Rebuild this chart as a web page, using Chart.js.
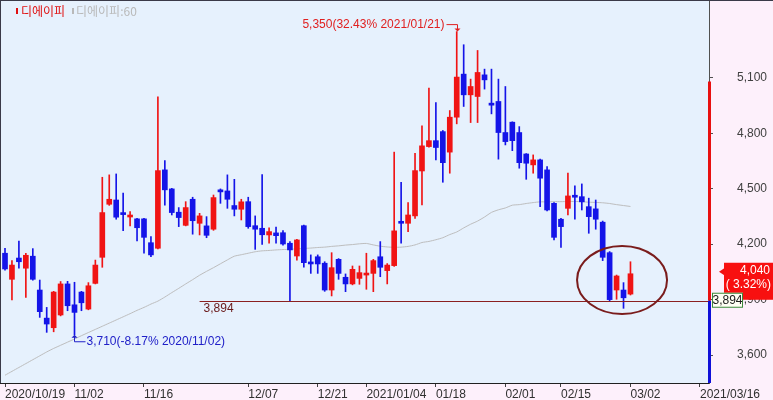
<!DOCTYPE html>
<html><head><meta charset="utf-8">
<script src="https://cdn.jsdelivr.net/npm/chart.js@4/dist/chart.umd.min.js"></script>
<style>html,body{margin:0;padding:0;background:#FDF0FB;}#wrap{width:773px;height:400px;position:relative}</style>
</head><body><div id="wrap"><canvas id="c" width="773" height="400"></canvas></div>
<script>
const dates = [
'2020/10/19','2020/10/20','2020/10/21','2020/10/22','2020/10/23','2020/10/26','2020/10/27','2020/10/28','2020/10/29','2020/10/30',
'2020/11/02','2020/11/03','2020/11/04','2020/11/05','2020/11/06','2020/11/09','2020/11/10','2020/11/11','2020/11/12','2020/11/13',
'2020/11/16','2020/11/17','2020/11/18','2020/11/19','2020/11/20','2020/11/23','2020/11/24','2020/11/25','2020/11/26','2020/11/27',
'2020/11/30','2020/12/01','2020/12/02','2020/12/03','2020/12/04','2020/12/07','2020/12/08','2020/12/09','2020/12/10','2020/12/11',
'2020/12/14','2020/12/15','2020/12/16','2020/12/17','2020/12/18','2020/12/21','2020/12/22','2020/12/23','2020/12/24','2020/12/28',
'2020/12/29','2020/12/30','2021/01/04','2021/01/05','2021/01/06','2021/01/07','2021/01/08','2021/01/11','2021/01/12','2021/01/13',
'2021/01/14','2021/01/15','2021/01/18','2021/01/19','2021/01/20','2021/01/21','2021/01/22','2021/01/25','2021/01/26','2021/01/27',
'2021/01/28','2021/01/29','2021/02/01','2021/02/02','2021/02/03','2021/02/04','2021/02/05','2021/02/08','2021/02/09','2021/02/10',
'2021/02/15','2021/02/16','2021/02/17','2021/02/18','2021/02/19','2021/02/22','2021/02/23','2021/02/24','2021/02/25','2021/02/26',
'2021/03/02','2021/03/03','2021/03/04','2021/03/05','2021/03/08','2021/03/09','2021/03/10','2021/03/11','2021/03/12','2021/03/15',
'2021/03/16'];

const opens  = [4151,4010,4125,4070,4135,3952,3800,3748,3817,3985, 3872,3941,3849,3988,4129,4416,4439,4369,4347,4337,
                4337,4208,4178,4602,4499,4373,4302,4443,4313,4299, 4281,4494,4488,4409,4389,4430,4300,4286,4250,4261,
                4262,4205,4136,4300,4104,4132,4097,3952,4118,4021, 3985,4015,4033,4042,4132,4057,4084,4322,4313,4353,
                4596,4728,4760,4809,4698,4887,5120,5008,4999,5116, 4963,4972,4804,4860,4804,4688,4629,4656,4602,4421,
                4335,4394,4463,4457,4403,4391,4319,4154,3952,3952, 3930];
const highs  = [4178,4111,4217,4151,4176,4006,3858,3945,3998,3999, 3994,3945,3992,4114,4562,4575,4580,4476,4376,4340,
                4340,4241,4997,4652,4502,4398,4430,4454,4367,4349, 4466,4499,4575,4551,4443,4454,4353,4576,4289,4292,
                4273,4214,4226,4303,4142,4142,4105,4154,4122,4039, 4082,4082,4151,4118,4214,4095,4698,4535,4425,4692,
                4840,5044,4966,4815,4923,5350,5279,5093,5248,5147, 5147,5093,5053,4862,4836,4690,4683,4660,4620,4425,
                4340,4584,4515,4526,4449,4439,4325,4160,4033,3992, 4105];
const lows   = [4060,3898,4070,3912,4005,3804,3723,3726,3812,3840, 3710,3840,3845,3985,4075,4410,4335,4273,4299,4217,
                4151,4132,4175,4411,4358,4295,4299,4254,4250,4235, 4275,4421,4394,4353,4331,4286,4172,4199,4205,4205,
                4195,3894,4114,4075,4042,4042,3945,3920,4010,3943, 3980,3983,3956,3943,4024,3985,4080,4205,4268,4340,
                4412,4725,4656,4535,4584,4851,4945,4858,4858,5039, 4905,4660,4737,4706,4611,4551,4584,4403,4380,4223,
                4183,4358,4335,4385,4259,4281,4111,3894,3902,3853, 3925];
const closes = [4066,4087,4105,4140,4010,3835,3768,3941,3985,3867, 3831,3883,3975,4087,4371,4443,4346,4360,4356,4289,
                4237,4142,4598,4494,4371,4344,4398,4327,4353,4248, 4452,4483,4443,4389,4429,4295,4281,4251,4268,4246,
                4201,4169,4223,4100,4093,4093,3952,4073,4042,3985, 4064,4046,4042,4111,4075,4087,4272,4313,4358,4598,
                4732,4760,4723,4641,4887,5104,5008,5053,5129,5089, 4952,4804,4755,4760,4641,4638,4656,4557,4385,4237,
                4295,4461,4454,4429,4349,4335,4129,3900,4028,3910, 4040];
const ma60   = [3491,3512,3533,3554,3575,3596,3617,3636,3653,3670, 3687,3705,3722,3739,3756,3773,3790,3807,3824,3842,
                3858,3876,3892,3914,3938,3961,3985,4008,4032,4053, 4073,4094,4115,4135,4143,4151,4159,4164,4166,4169,
                4171,4172,4175,4177,4179,4182,4184,4188,4191,4195, 4198,4202,4204,4196,4189,4185,4183,4184,4188,4196,
                4209,4215,4224,4235,4252,4266,4288,4308,4325,4347, 4372,4386,4396,4411,4414,4420,4425,4429,4429,4430,
                4430,4431,4431,4430,4427,4426,4424,4420,4414,4409, 4404];

const tickIdx  = [0,10,20,35,45,52,62,72,80,90,100];
const tickText = ['2020/10/19','11/02','11/16','12/07','12/21','2021/01/04','01/18','02/01','02/15','03/02','2021/03/16'];
const yTicks   = [3600,3900,4200,4500,4800,5100];
const supportLevel = 3894;
const supportStartDate = '2020/11/26';
const rangeTop = 5080;
const seriesNames = ['디에이피','디에이피:60'];

const UP = '#F01414', DOWN = '#1414E8';
const fmt = v => Math.round(v).toLocaleString('en-US');
const FONT = '"Liberation Sans", Arial, sans-serif';

const n = closes.length;
const colors = closes.map((c,i)=> c >= opens[i] ? UP : DOWN);
const last = closes[n-1];
const prev = closes[n-2];

const deco = {
  id: 'deco',
  beforeDraw(chart) {
    const {ctx, chartArea: a} = chart;
    ctx.save();
    ctx.fillStyle = '#FDF0FB'; ctx.fillRect(0,0,chart.width,chart.height);
    ctx.fillStyle = '#E6F1FD'; ctx.fillRect(a.left,a.top,a.right-a.left,a.bottom-a.top);
    ctx.restore();
  },
  afterDatasetsDraw(chart) {
    const {ctx, chartArea: a, scales:{x, y}} = chart;
    ctx.save();
    ctx.font = '12px "Noto Sans CJK KR", sans-serif';
    ctx.textBaseline = 'middle';
    ctx.fillStyle = '#E01010'; ctx.fillRect(16,8,2,6);
    ctx.fillText(seriesNames[0], 21, 11);
    ctx.fillStyle = '#B9B9B9'; ctx.fillRect(72,8,2,6);
    ctx.fillText(seriesNames[1], 76, 11);

    const sy = Math.round(y.getPixelForValue(supportLevel)) + 0.5;
    const sx = x.getPixelForValue(dates.indexOf(supportStartDate));
    ctx.strokeStyle = '#8B2020'; ctx.lineWidth = 1;
    ctx.beginPath(); ctx.moveTo(sx, sy); ctx.lineTo(a.right, sy); ctx.stroke();
    ctx.font = '12px ' + FONT; ctx.fillStyle = '#6A1A1A'; ctx.textBaseline = 'top'; ctx.textAlign = 'left';
    ctx.fillText(fmt(supportLevel), sx + 4, sy + 1);

    const k0 = n - 4;
    let lo = Infinity, hi = -Infinity;
    for (let i = k0; i < n; i++) { lo = Math.min(lo, lows[i]); hi = Math.max(hi, highs[i]); }
    const cx = x.getPixelForValue((k0 + n - 1) / 2) + 2;
    const cy = (y.getPixelForValue(lo) + y.getPixelForValue(hi)) / 2;
    ctx.strokeStyle = '#7A1C1C'; ctx.lineWidth = 2;
    ctx.beginPath(); ctx.ellipse(cx, cy, 45, 34, 0, 0, Math.PI * 2); ctx.stroke();

    let iMax = 0, iMin = 0;
    highs.forEach((v,i)=>{ if (v > highs[iMax]) iMax = i; });
    lows.forEach((v,i)=>{ if (v < lows[iMin]) iMin = i; });
    const pct = v => ((v / last - 1) * 100).toFixed(2) + '%';
    ctx.lineWidth = 1;
    let px = Math.round(x.getPixelForValue(iMax)) + 0.5, py = y.getPixelForValue(highs[iMax]);
    ctx.strokeStyle = '#E02020'; ctx.fillStyle = '#E02020';
    const ty = py - 7;
    ctx.beginPath(); ctx.moveTo(px - 11, ty); ctx.lineTo(px, ty); ctx.lineTo(px, py - 2); ctx.stroke();
    ctx.beginPath(); ctx.moveTo(px - 3, py - 3); ctx.lineTo(px + 3, py - 3); ctx.lineTo(px, py); ctx.closePath(); ctx.fill();
    ctx.textAlign = 'right'; ctx.textBaseline = 'middle';
    ctx.fillText(fmt(highs[iMax]) + '(' + pct(highs[iMax]) + ' ' + dates[iMax] + ')', px - 13, ty);
    px = Math.round(x.getPixelForValue(iMin)) + 0.5; py = y.getPixelForValue(lows[iMin]);
    ctx.strokeStyle = '#2020C8'; ctx.fillStyle = '#2020C8';
    const by = py + 7;
    ctx.beginPath(); ctx.moveTo(px, py + 2); ctx.lineTo(px, by); ctx.lineTo(px + 11, by); ctx.stroke();
    ctx.beginPath(); ctx.moveTo(px - 3, py + 3); ctx.lineTo(px + 3, py + 3); ctx.lineTo(px, py); ctx.closePath(); ctx.fill();
    ctx.textAlign = 'left';
    ctx.fillText(fmt(lows[iMin]) + '(' + pct(lows[iMin]) + ' ' + dates[iMin] + ')', px + 12, by);
    ctx.restore();
  },
  afterDraw(chart) {
    const {ctx, chartArea: a, scales:{y}} = chart;
    ctx.save();
    const ySup = y.getPixelForValue(supportLevel);
    const yTop = y.getPixelForValue(rangeTop);
    ctx.fillStyle = '#E81010'; ctx.fillRect(a.right - 1, yTop, 3, ySup - yTop);
    ctx.fillStyle = '#1010D8'; ctx.fillRect(a.right - 1, ySup, 3, a.bottom - ySup);
    const yl = y.getPixelForValue(last);
    ctx.fillStyle = '#F01010';
    ctx.beginPath(); ctx.moveTo(a.right + 10, yl - 2); ctx.lineTo(a.right + 16, yl - 6); ctx.lineTo(a.right + 16, yl + 2); ctx.closePath(); ctx.fill();
    ctx.fillStyle = '#F81010';
    ctx.fillRect(724, yl - 11, 49, 37);
    ctx.fillStyle = '#FFFFFF'; ctx.font = '12px ' + FONT; ctx.textAlign = 'right'; ctx.textBaseline = 'middle';
    ctx.fillText(fmt(last), 770, yl - 3);
    ctx.fillText('( ' + ((last / prev - 1) * 100).toFixed(2) + '%)', 771, yl + 11);
    ctx.fillStyle = '#FFFFF4'; ctx.fillRect(a.right + 3, ySup - 8, 31, 15);
    ctx.strokeStyle = '#3C8A3C'; ctx.lineWidth = 1; ctx.strokeRect(a.right + 3.5, ySup - 7.5, 30, 14);
    ctx.fillStyle = '#202020'; ctx.textAlign = 'center';
    ctx.fillText(fmt(supportLevel), a.right + 18.5, ySup);
    ctx.fillStyle = '#3A3A48'; ctx.fillRect(0, 0, chart.width, 1); ctx.fillRect(0, 0, 1, a.bottom);
    ctx.restore();
  }
};

new Chart(document.getElementById('c'), {
  type: 'bar',
  data: {
    datasets: [
      { type: 'line', label: seriesNames[1], data: ma60.map((v,i)=>({x:i, y:v})),
        borderColor: '#BDBDBD', borderWidth: 1, pointRadius: 0, tension: 0.2, order: 3 },
      { label: 'wick', data: highs.map((h,i)=>({x:i, y:[lows[i], h]})),
        backgroundColor: colors, barThickness: 1, grouped: false, minBarLength: 1, order: 2 },
      { label: seriesNames[0], data: opens.map((o,i)=>({x:i, y:[o, closes[i]]})),
        backgroundColor: colors, barThickness: 5, grouped: false, minBarLength: 2, order: 1 }
    ]
  },
  options: {
    responsive: false, animation: false, devicePixelRatio: 1,
    layout: { padding: 0, autoPadding: false },
    plugins: { legend: { display: false }, tooltip: { enabled: false } },
    scales: {
      x: {
        type: 'linear', min: -0.72, max: 101.3, offset: false,
        afterBuildTicks: s => { s.ticks = tickIdx.map(v => ({ value: v })); },
        afterFit: s => { s.height = 17; s.paddingLeft = 0; s.paddingRight = 0; s.paddingTop = 0; s.paddingBottom = 0; },
        ticks: { autoSkip: false, maxRotation: 0, align: 'start', padding: 0, color: '#303030',
                 font: { family: FONT, size: 12 },
                 callback: v => tickText[tickIdx.indexOf(v)] },
        grid: { offset: false, drawOnChartArea: false, drawTicks: true, tickLength: 4, color: '#404040' },
        border: { display: true, color: '#202020' }
      },
      y: {
        position: 'right', min: 3449, max: 5521,
        afterBuildTicks: s => { s.ticks = yTicks.map(v => ({ value: v })); },
        afterFit: s => { s.width = 64; s.paddingTop = 0; s.paddingBottom = 0; s.paddingLeft = 0; s.paddingRight = 0; },
        ticks: { crossAlign: 'near', padding: 24, color: '#404040', font: { family: FONT, size: 12 },
                 callback: v => fmt(v) },
        grid: { offset: false, drawOnChartArea: false, drawTicks: true, tickLength: 4, color: '#505050' },
        border: { display: true, color: '#505050' }
      }
    }
  },
  plugins: [deco]
});
</script>
</body></html>
